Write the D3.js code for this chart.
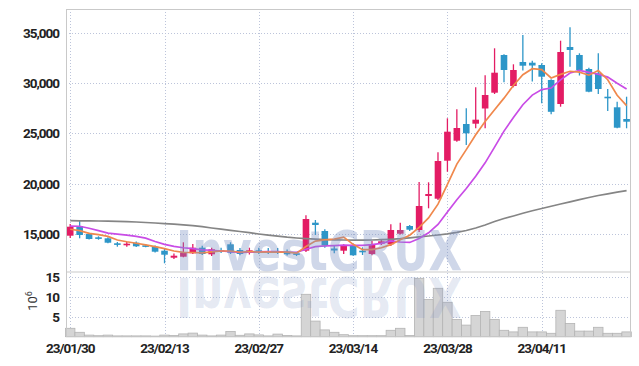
<!DOCTYPE html>
<html>
<head>
<meta charset="utf-8">
<script src="https://cdn.jsdelivr.net/npm/d3@7"></script>
<style>
  body { margin: 0; background: #fff; }
  #chart text { font-family: Roboto, "Liberation Sans", sans-serif; }
</style>
</head>
<body>
<div id="chart"></div>
<script>
// trading days shown (yy/mm/dd)
var dates = ["23/01/30","23/01/31","23/02/01","23/02/02","23/02/03","23/02/06","23/02/07","23/02/08","23/02/09","23/02/10",
  "23/02/13","23/02/14","23/02/15","23/02/16","23/02/17","23/02/20","23/02/21","23/02/22","23/02/23","23/02/24",
  "23/02/27","23/02/28","23/03/02","23/03/03","23/03/06","23/03/07","23/03/08","23/03/09","23/03/10","23/03/13",
  "23/03/14","23/03/15","23/03/16","23/03/17","23/03/20","23/03/21","23/03/22","23/03/23","23/03/24","23/03/27",
  "23/03/28","23/03/29","23/03/30","23/03/31","23/04/03","23/04/04","23/04/05","23/04/06","23/04/07","23/04/10",
  "23/04/11","23/04/12","23/04/13","23/04/14","23/04/17","23/04/18","23/04/19","23/04/20","23/04/21","23/04/24"];

var openP  = [14862,15824,15030,14702,14603,14108,13939,14167,13909,13770,
  13373,12679,12778,13116,13671,13016,13443,14008,13443,13245,
  13413,13344,13344,13274,13116,13373,16151,15328,13591,13373,
  13869,13373,13046,14068,14008,15060,15824,15427,18800,18532,
  22301,24286,25942,25972,27480,29047,32787,29712,32093,32023,
  31795,30307,27926,33581,32787,31398,30972,28650,27599,26438];
var highP  = [16022,16320,15159,14802,14702,14237,14266,14286,14038,13890,
  13612,13095,14207,14038,13869,13671,13671,14207,13641,13671,
  13671,13641,13641,13492,13245,16885,16419,15497,13939,14008,
  13939,13711,14336,14435,15992,16151,15923,20189,20159,23135,
  26508,27401,27500,29583,30773,33452,32850,31865,34771,32222,
  31964,30377,34206,35535,32956,31527,32956,29414,28155,28650];
var lowP   = [14633,14604,14484,14465,14108,13770,13770,13741,13711,13195,
  12124,12550,12719,13046,12947,12848,13145,13046,12917,12997,
  13046,13046,13046,12898,12848,13245,14931,13671,13116,13046,
  12878,12947,12917,13939,13841,14980,15328,15229,17579,18403,
  21210,24187,23859,25516,25516,28918,30079,29583,31249,30158,
  27995,26905,27658,31626,30753,29087,28918,27232,25516,25516];
var closeP = [15754,14931,14534,14564,14167,13969,14068,13810,13770,13274,
  12976,12877,13175,13671,13046,13512,13314,13175,13046,13413,
  13245,13245,13215,13016,12976,16518,15923,13909,13393,13909,
  12917,13245,13939,14305,15427,15427,15457,17808,18998,22271,
  25179,25545,25020,26369,28819,31031,31299,31299,31725,31745,
  30634,27152,33085,33283,31299,29146,29414,28521,25575,26170];

// volume, millions of shares
var volume = [2.1,1.1,0.4,0.25,0.4,0.2,0.2,0.2,0.2,0.15,
  0.4,0.3,0.7,0.9,0.4,0.2,0.4,1.3,0.35,0.7,
  0.45,0.2,0.65,0.3,0.2,10.6,3.9,1.7,1.1,0.5,
  0.25,0.25,0.25,0.25,1.6,2.1,0.3,14.6,9.3,12.1,
  8.6,4.3,2.9,5.3,6.3,4.3,1.6,1.2,2.35,1.2,
  1.2,0.85,6.6,3.3,1.4,1.4,2.35,0.85,0.85,1.2];

// moving averages
var ma5 = [15500,15360,15100,14960,14790,14432,14260,14115,13957,13778,
  13580,13341,13214,13195,13149,13256,13343,13343,13218,13292,
  13238,13224,13231,13225,13138,13793,14323,14454,14530,14716,
  14002,13472,13486,13669,13972,14469,14911,15685,16623,17992,
  19942,21960,23402,24876,26186,27356,28507,29763,30835,31424,
  31345,30511,30862,31174,31080,30783,31239,30333,28791,27765];
var ma10 = [15820,15800,15600,15360,15110,15010,14910,14800,14620,14284,
  14006,13801,13665,13576,13464,13418,13342,13279,13207,13220,
  13247,13284,13287,13222,13215,13516,13774,13843,13878,13927,
  13897,13897,13970,14099,14344,14235,14192,14585,15146,15982,
  17205,18435,19543,20750,22089,23649,25234,26583,27856,28805,
  29351,29509,30313,31004,31252,31064,30875,30597,29982,29423];
var ma60 = [16349,16339,16329,16319,16300,16280,16250,16220,16171,16121,
  16061,16002,15932,15853,15754,15625,15506,15397,15278,15159,
  15030,14911,14812,14712,14633,14573,14524,14484,14454,14435,
  14425,14425,14435,14464,14504,14564,14653,14742,14831,14931,
  15050,15198,15377,15625,15923,16270,16567,16815,17083,17341,
  17559,17787,18006,18224,18442,18651,18849,19018,19176,19325];

var priceTicks = [15000,20000,25000,30000,35000];
var volumeTicks = [5,10,15];
var dateTicks = ["23/01/30","23/02/13","23/02/27","23/03/14","23/03/28","23/04/11"];

var upColor = "#e31c64", downColor = "#2d96c8";

function drawChart(){
    var width = 639, height = 366;
    var left = 66, right = 630.5, top = 9, mid = 271.5, bottom = 336.7;

    var svg = d3.select("#chart").append("svg")
        .attr("width", width)
        .attr("height", height);

    var x = d3.scaleBand().domain(dates).range([65.5, 631.3]).padding(0);
    var bw = x.bandwidth();
    var cx = function(i){ return x(dates[i]) + bw/2; };

    var yP = d3.scaleLinear().domain([11310, 37350]).range([mid, top]);
    var yV = d3.scaleLinear().domain([0, 16.3]).range([bottom, mid]);

    // grid
    var grid = svg.append("g").attr("class", "grid")
        .attr("stroke", "#bcc4da").attr("stroke-dasharray", "1,2").attr("stroke-width", 1);
    grid.selectAll(".hp").data(priceTicks).enter().append("line")
        .attr("x1", left).attr("x2", right)
        .attr("y1", function(d){ return Math.round(yP(d)) + 0.5; })
        .attr("y2", function(d){ return Math.round(yP(d)) + 0.5; });
    grid.selectAll(".hv").data(volumeTicks).enter().append("line")
        .attr("x1", left).attr("x2", right)
        .attr("y1", function(d){ return Math.round(yV(d)) + 0.5; })
        .attr("y2", function(d){ return Math.round(yV(d)) + 0.5; });
    grid.selectAll(".vx").data(dateTicks).enter().append("line")
        .attr("x1", function(d){ return Math.round(x(d) + bw/2) + 0.5; })
        .attr("x2", function(d){ return Math.round(x(d) + bw/2) + 0.5; })
        .attr("y1", top).attr("y2", bottom);

    // volume bars
    svg.append("g").selectAll("rect").data(volume).enter().append("rect")
        .attr("x", function(d, i){ return x(dates[i]); })
        .attr("width", bw)
        .attr("y", function(d){ return yV(d); })
        .attr("height", function(d){ return yV(0) - yV(d); })
        .attr("fill", "#d5d5d5")
        .attr("stroke", "#b4b4b4")
        .attr("stroke-width", 0.8);

    // candles
    var candles = svg.append("g").selectAll("g").data(dates).enter().append("g");
    candles.append("line")
        .attr("x1", function(d, i){ return cx(i); })
        .attr("x2", function(d, i){ return cx(i); })
        .attr("y1", function(d, i){ return yP(highP[i]); })
        .attr("y2", function(d, i){ return yP(lowP[i]); })
        .attr("stroke", function(d, i){ return closeP[i] >= openP[i] ? upColor : downColor; })
        .attr("stroke-width", 1.3);
    candles.append("rect")
        .attr("x", function(d, i){ return cx(i) - 3.3; })
        .attr("width", 6.6)
        .attr("y", function(d, i){ return yP(Math.max(openP[i], closeP[i])); })
        .attr("height", function(d, i){ return Math.max(1.6, Math.abs(yP(openP[i]) - yP(closeP[i]))); })
        .attr("fill", function(d, i){ return closeP[i] >= openP[i] ? upColor : downColor; });

    // moving average lines
    var line = d3.line()
        .x(function(d, i){ return cx(i); })
        .y(function(d){ return yP(d); });
    [[ma60, "#858585"], [ma10, "#c94ce6"], [ma5, "#f0884c"]].forEach(function(m){
        svg.append("path")
            .datum(m[0])
            .attr("d", line)
            .attr("fill", "none")
            .attr("stroke", m[1])
            .attr("stroke-width", 1.7);
    });

    // watermark + reflection
    var wm = svg.append("g").attr("pointer-events", "none");
    wm.append("text")
        .attr("x", 176).attr("y", 270)
        .attr("textLength", 286).attr("lengthAdjust", "spacingAndGlyphs")
        .style("font-family", "'DejaVu Sans', sans-serif")
        .style("font-weight", "bold").style("font-size", "55px")
        .attr("fill", "#7b8fc2").attr("fill-opacity", 0.36)
        .text("InvestCRUX");
    wm.append("text")
        .attr("x", 176).attr("y", 270)
        .attr("transform", "translate(0,548) scale(1,-1)")
        .attr("textLength", 286).attr("lengthAdjust", "spacingAndGlyphs")
        .style("font-family", "'DejaVu Sans', sans-serif")
        .style("font-weight", "bold").style("font-size", "55px")
        .attr("fill", "#7b8fc2").attr("fill-opacity", 0.2)
        .text("InvestCRUX");

    // frame
    svg.append("rect")
        .attr("x", left + 0.5).attr("y", top + 0.5)
        .attr("width", right - left - 0.5).attr("height", bottom - top - 0.5)
        .attr("fill", "none").attr("stroke", "#c9c9c9");
    svg.append("line")
        .attr("x1", left).attr("x2", right)
        .attr("y1", mid + 0.5).attr("y2", mid + 0.5)
        .attr("stroke", "#c9c9c9");

    // axes
    var axisP = d3.axisLeft(yP).tickValues(priceTicks).tickFormat(d3.format(",")).tickSize(0).tickPadding(7);
    var axisV = d3.axisLeft(yV).tickValues(volumeTicks).tickFormat(d3.format("d")).tickSize(0).tickPadding(7);
    var axisX = d3.axisBottom(x).tickValues(dateTicks).tickSize(0).tickPadding(6.5);

    [svg.append("g").attr("transform", "translate(" + left + ",0)").call(axisP),
     svg.append("g").attr("transform", "translate(" + left + ",0)").call(axisV),
     svg.append("g").attr("transform", "translate(0," + bottom + ")").call(axisX)].forEach(function(g){
        g.select(".domain").remove();
        g.selectAll("text")
            .style("font-size", "13.5px")
            .style("font-weight", "bold")
            .style("letter-spacing", "-1px")
            .attr("fill", "#222");
    });

    // unit label
    var unit = svg.append("text")
        .attr("transform", "translate(37,301) rotate(-90)")
        .attr("text-anchor", "middle")
        .style("font-size", "13px")
        .attr("fill", "#333");
    unit.append("tspan").text("10");
    unit.append("tspan").attr("dy", -5).style("font-size", "9px").text("6");
}

drawChart();
</script>
</body>
</html>
